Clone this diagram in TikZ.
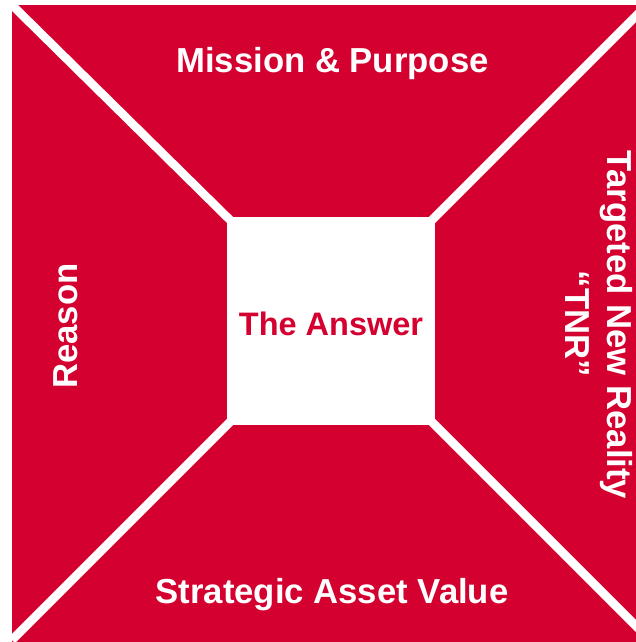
\documentclass[tikz,border=0pt]{standalone}
\usepackage{fontspec}
\setmainfont{Liberation Sans}
\definecolor{answerred}{RGB}{212,0,48}

\begin{document}
\begin{tikzpicture}[x=1pt,y=-1pt,
  every node/.style={inner sep=0pt,text=white,
    font=\bfseries\fontsize{34.7}{41.6}\selectfont},
  cut/.style={white,line width=8.5pt}
]
\useasboundingbox (0,0) rectangle (636,642);
\clip (0,0) rectangle (636,642);

% red field
\fill[answerred] (12,5) rectangle (670,670);

% outer corners
\coordinate (TL) at (12,5);
\coordinate (TR) at (647,5);
\coordinate (BL) at (12,640);
\coordinate (BR) at (652,642);

% the white box in the middle
\node[fill=white,minimum size=208pt,text=answerred,
  text height=29.7pt,text depth=0pt,
  font=\bfseries\fontsize{32.5}{39}\selectfont] (ans) at (331,321) {The Answer};

% diagonal cuts
\foreach \c/\o in {north west/TL,north east/TR,south west/BL,south east/BR}{
  \draw[cut,shorten <=-8pt] (ans.\c) -- (\o);
}

% side labels
\node[anchor=base] (mission) at (332.5,73) {Mission \& Purpose};
\node[anchor=base] (asset) at (332,603) {Strategic Asset Value};
\node[anchor=base,rotate=90] (reason) at (77,326) {Reason};
\node[anchor=base,rotate=-90] (tnr) at (607,325) {Targeted New Reality};
\node[anchor=base,rotate=-90] (tnrshort) at (565,324) {“TNR”};

\end{tikzpicture}
\end{document}
